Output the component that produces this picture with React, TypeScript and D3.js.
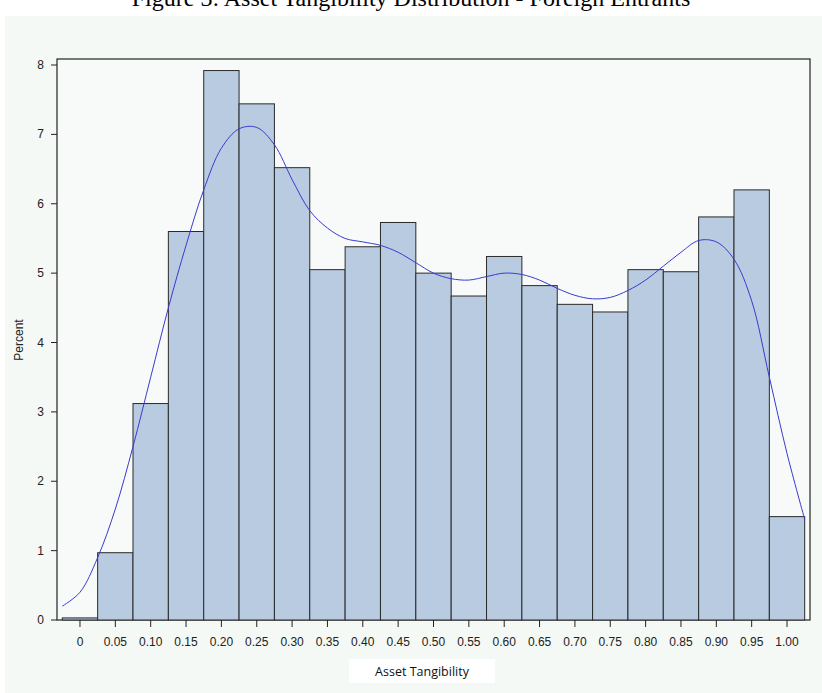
import { useEffect } from 'react';
import * as d3 from 'd3';

const W = 822;
const H = 693;

const binCenters = [0, 0.05, 0.1, 0.15, 0.2, 0.25, 0.3, 0.35, 0.4, 0.45, 0.5, 0.55, 0.6, 0.65, 0.7, 0.75, 0.8, 0.85, 0.9, 0.95, 1.0];
const binPercent = [0.03, 0.97, 3.12, 5.6, 7.92, 7.44, 6.52, 5.05, 5.38, 5.73, 5.0, 4.67, 5.24, 4.82, 4.55, 4.44, 5.05, 5.02, 5.81, 6.2, 1.49];
const tickLabels = ['0', '0.05', '0.10', '0.15', '0.20', '0.25', '0.30', '0.35', '0.40', '0.45', '0.50', '0.55', '0.60', '0.65', '0.70', '0.75', '0.80', '0.85', '0.90', '0.95', '1.00'];
const kdeX = [-0.025, 0, 0.025, 0.05, 0.075, 0.1, 0.125, 0.15, 0.175, 0.2, 0.225, 0.25, 0.275, 0.3, 0.325, 0.35, 0.375, 0.4, 0.425, 0.45, 0.475, 0.5, 0.525, 0.55, 0.575, 0.6, 0.625, 0.65, 0.675, 0.7, 0.725, 0.75, 0.775, 0.8, 0.825, 0.85, 0.875, 0.9, 0.925, 0.95, 0.975, 1.0, 1.025];
const kdeY = [0.2, 0.4, 0.9, 1.6, 2.5, 3.5, 4.5, 5.4, 6.2, 6.8, 7.08, 7.1, 6.85, 6.35, 5.9, 5.65, 5.5, 5.45, 5.4, 5.3, 5.15, 5.0, 4.92, 4.9, 4.95, 5.0, 4.98, 4.9, 4.78, 4.68, 4.63, 4.65, 4.75, 4.9, 5.1, 5.3, 5.47, 5.45, 5.2, 4.6, 3.5, 2.4, 1.45];
const yTicks = [0, 1, 2, 3, 4, 5, 6, 7, 8];

const FONT = '"Liberation Sans Narrow", "Arial Narrow", "Liberation Sans", sans-serif';

export default function App() {
  useEffect(() => {
    document.body.style.margin = '0';
  }, []);

  const x = d3.scaleLinear().domain([-0.0325, 1.0325]).range([57, 810]);
  const y = d3.scaleLinear().domain([0, 8]).range([620, 65]);
  const half = 0.025;

  const line = d3
    .line<number>()
    .x((_, i) => x(kdeX[i]))
    .y((d) => y(d))
    .curve(d3.curveCatmullRom);

  return (
    <svg width={W} height={H} style={{ display: 'block', background: '#fff' }}>
      <text x={W / 2} y={6} textAnchor="middle" fontFamily="'Liberation Serif', serif" fontSize={24} fill="#000">
        Figure 3: Asset Tangibility Distribution - Foreign Entrants
      </text>
      <rect x={5} y={16} width={W - 5} height={H - 16} fill="#f5f9f6" />
      <rect x={57} y={59} width={753} height={561} fill="#f7faf8" stroke="#222" strokeWidth={1.2} />
      {binCenters.map((c, i) => (
        <rect
          key={i}
          x={x(c - half)}
          y={y(binPercent[i])}
          width={x(c + half) - x(c - half)}
          height={y(0) - y(binPercent[i])}
          fill="#b8cbe0"
          stroke="#2a2a2a"
          strokeWidth={1}
        />
      ))}
      <path d={line(kdeY) ?? ''} fill="none" stroke="#3a3ad0" strokeWidth={1} />
      {yTicks.map((t) => (
        <g key={t}>
          <line x1={51} x2={57} y1={y(t)} y2={y(t)} stroke="#222" />
          <text x={44} y={y(t) + 4} textAnchor="end" fontFamily={FONT} fontSize={12} fill="#222">
            {t}
          </text>
        </g>
      ))}
      {binCenters.map((c, i) => (
        <g key={c}>
          <line x1={x(c)} x2={x(c)} y1={620} y2={627} stroke="#222" />
          <text x={x(c)} y={646} textAnchor="middle" fontFamily={FONT} fontSize={12} fill="#222">
            {tickLabels[i]}
          </text>
        </g>
      ))}
      <text transform="translate(23,340) rotate(-90)" textAnchor="middle" fontFamily={FONT} fontSize={12} fill="#222">
        Percent
      </text>
      <rect x={349} y={659} width={146} height={24} fill="#fff" />
      <text x={422} y={676} textAnchor="middle" fontFamily="'Open Sans', sans-serif" fontSize={12.5} fill="#111">
        Asset Tangibility
      </text>
    </svg>
  );
}
